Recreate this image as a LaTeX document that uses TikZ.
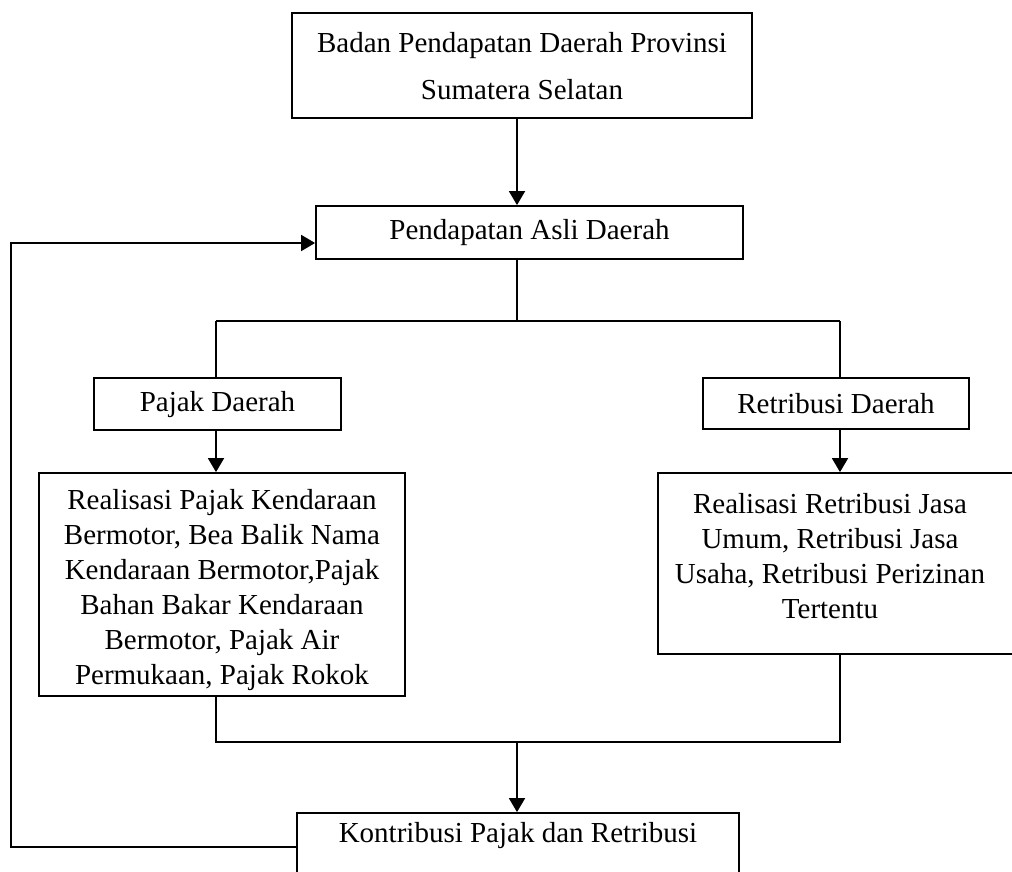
\documentclass[tikz,border=0pt]{standalone}
\usepackage{fontspec}
\setmainfont{Liberation Serif}
\usetikzlibrary{arrows.meta}
\begin{document}
\begin{tikzpicture}[x=1pt,y=-1pt,
  box/.style={draw, line width=1.8pt, inner sep=0pt},
  txt/.style={font=\fontsize{29}{35}\selectfont, align=center, inner sep=0pt},
  conn/.style={line width=1.8pt},
  arr/.style={line width=1.8pt, -{Triangle[length=14pt,width=16pt]}}]
\useasboundingbox (0,0) rectangle (1012,872);
% boxes
\node[box, minimum width=460pt, minimum height=105pt] (top) at (522,65.5) {};
\node[txt, font=\fontsize{29}{47}\selectfont] (toptxt) at (522,66) {Badan Pendapatan Daerah Provinsi\\Sumatera Selatan};
\node[box, minimum width=427pt, minimum height=53pt] (box2) at (529.5,232.5) {};
\node[txt] (box2txt) at (529.5,233) {Pendapatan Asli Daerah};
\node[box, minimum width=247pt, minimum height=52pt] (pajak) at (217.5,404) {};
\node[txt] (pajaktxt) at (217.5,405) {Pajak Daerah};
\node[box, minimum width=266pt, minimum height=51pt] (retri) at (836,403.5) {};
\node[txt] (retritxt) at (836,404) {Retribusi Daerah};
\node[box, minimum width=366pt, minimum height=223pt] (realL) at (222,584.5) {};
\node[txt] (realLtxt) at (222,590) {Realisasi Pajak Kendaraan\\Bermotor, Bea Balik Nama\\Kendaraan Bermotor,Pajak\\Bahan Bakar Kendaraan\\Bermotor, Pajak Air\\Permukaan, Pajak Rokok};
\node[box, minimum width=367pt, minimum height=181pt] (realR) at (841.5,563.5) {};
\node[txt] (realRtxt) at (830,556) {Realisasi Retribusi Jasa\\Umum, Retribusi Jasa\\Usaha, Retribusi Perizinan\\Tertentu};
\node[box, minimum width=442pt, minimum height=77pt] (kontri) at (518,851.5) {};
\node[txt] (kontritxt) at (518,836) {Kontribusi Pajak dan Retribusi};
% junctions
\coordinate (jt) at (517,321);
\coordinate (jl) at (216,321);
\coordinate (jr) at (840,321);
\coordinate (bl) at (216,742);
\coordinate (br) at (840,742);
\coordinate (bm) at (517,742);
\coordinate (fb1) at (11,847);
\coordinate (fb2) at (11,243);
% connectors
\draw[arr] (top.south -| jt) -- (box2.north -| jt);
\draw[conn] (box2.south -| jt) -- (jt);
\draw[conn] (jl) -- (jr);
\draw[conn] (jl) -- (pajak.north -| jl);
\draw[conn] (jr) -- (retri.north -| jr);
\draw[arr] (pajak.south -| jl) -- (realL.north -| jl);
\draw[arr] (retri.south -| jr) -- (realR.north -| jr);
\draw[conn] (realL.south -| bl) -- (bl) -- (br) -- (realR.south -| br);
\draw[arr] (bm) -- (kontri.north -| bm);
\draw[arr] (kontri.west |- fb1) -- (fb1) -- (fb2) -- (box2.west |- fb2);
\end{tikzpicture}
\end{document}
